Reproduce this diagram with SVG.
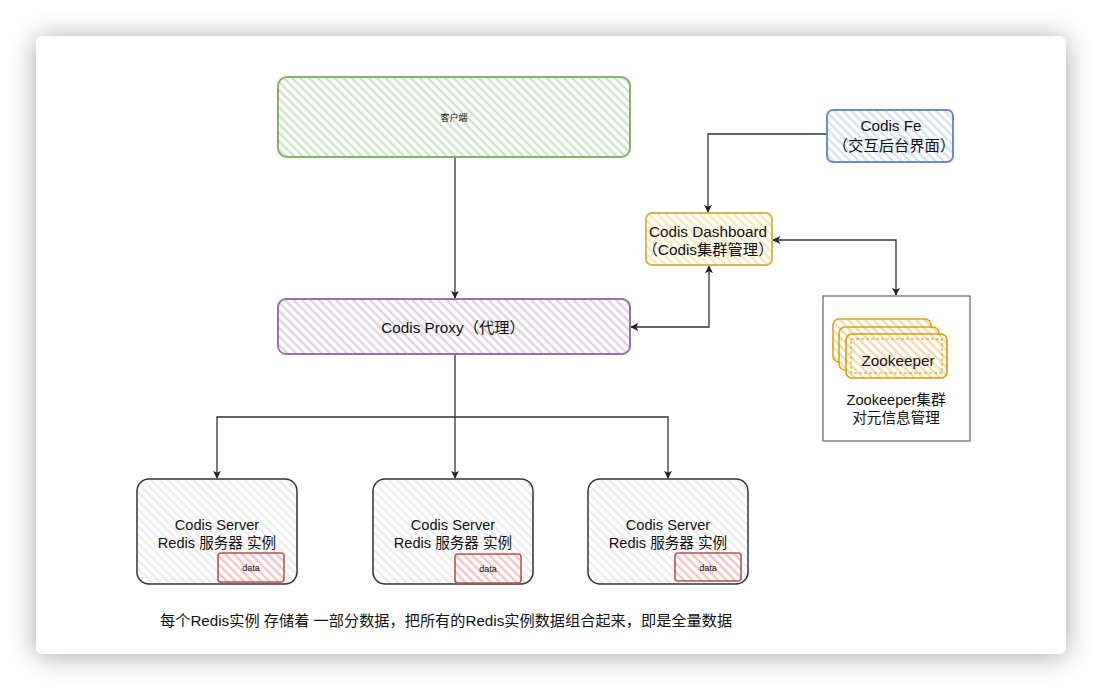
<svg xmlns="http://www.w3.org/2000/svg" width="1102" height="690" viewBox="0 0 1102 690">
<defs>
<filter id="shadow" x="-10%" y="-10%" width="120%" height="120%">
<feGaussianBlur in="SourceAlpha" stdDeviation="14"/>
<feComponentTransfer><feFuncA type="linear" slope="0.35"/></feComponentTransfer>
<feOffset dx="0" dy="2"/>
<feMerge><feMergeNode/><feMergeNode in="SourceGraphic"/></feMerge>
</filter>
<pattern id="hGreen" width="6" height="6" patternUnits="userSpaceOnUse" patternTransform="rotate(-45)"><rect width="6" height="6" fill="#ffffff"/><line x1="1.5" y1="0" x2="1.5" y2="6" stroke="#c4dfc0" stroke-width="2"/></pattern>
<pattern id="hPurple" width="6" height="6" patternUnits="userSpaceOnUse" patternTransform="rotate(-45)"><rect width="6" height="6" fill="#ffffff"/><line x1="1.5" y1="0" x2="1.5" y2="6" stroke="#d8cbe0" stroke-width="2"/></pattern>
<pattern id="hBlue" width="6" height="6" patternUnits="userSpaceOnUse" patternTransform="rotate(-45)"><rect width="6" height="6" fill="#ffffff"/><line x1="1.5" y1="0" x2="1.5" y2="6" stroke="#cfdcef" stroke-width="2"/></pattern>
<pattern id="hYellow" width="6" height="6" patternUnits="userSpaceOnUse" patternTransform="rotate(-45)"><rect width="6" height="6" fill="#ffffff"/><line x1="1.5" y1="0" x2="1.5" y2="6" stroke="#f7e6a8" stroke-width="2"/></pattern>
<pattern id="hOrange" width="6" height="6" patternUnits="userSpaceOnUse" patternTransform="rotate(-45)"><rect width="6" height="6" fill="#ffffff"/><line x1="1.5" y1="0" x2="1.5" y2="6" stroke="#f5d29e" stroke-width="2"/></pattern>
<pattern id="hGray" width="6" height="6" patternUnits="userSpaceOnUse" patternTransform="rotate(-45)"><rect width="6" height="6" fill="#ffffff"/><line x1="1.5" y1="0" x2="1.5" y2="6" stroke="#e6e6e6" stroke-width="1.6"/></pattern>
<pattern id="hRed" width="6" height="6" patternUnits="userSpaceOnUse" patternTransform="rotate(-45)"><rect width="6" height="6" fill="#ffffff"/><line x1="1.5" y1="0" x2="1.5" y2="6" stroke="#f4b9b7" stroke-width="2"/></pattern>
<marker id="arr" viewBox="0 0 10 10" refX="9" refY="5" markerWidth="8" markerHeight="8" orient="auto-start-reverse" markerUnits="userSpaceOnUse"><path d="M0,0 L10,5 L0,10 L2.5,5 Z" fill="#222"/></marker>
</defs>
<style>
.t{font-family:"Liberation Sans","Noto Sans CJK SC",sans-serif;fill:#111;text-anchor:middle}
.t14{font-size:14.6px}
.t15{font-size:15.3px}
.t9{font-size:9px}
.conn{fill:none;stroke:#333;stroke-width:1.3}
</style>
<rect width="1102" height="690" fill="#ffffff"/>
<rect x="36" y="36" width="1030" height="618" rx="7" fill="#ffffff" filter="url(#shadow)"/>

<g id="connectors">
<path class="conn" d="M455,157 V298" marker-end="url(#arr)"/>
<path class="conn" d="M827,134 H708 V212" marker-end="url(#arr)"/>
<path class="conn" d="M773,240 H896 V295" marker-start="url(#arr)" marker-end="url(#arr)"/>
<path class="conn" d="M631,327 H709 V266" marker-start="url(#arr)" marker-end="url(#arr)"/>
<path class="conn" d="M455,354 V478" marker-end="url(#arr)"/>
<path class="conn" d="M217,478 V417 H668 V478" marker-start="url(#arr)" marker-end="url(#arr)"/>
</g>

<g id="client">
<rect x="278" y="77" width="352" height="80" rx="9" fill="url(#hGreen)" stroke="#82b366" stroke-width="2"/>
<text class="t t9" x="454" y="121">客户端</text>
</g>

<g id="proxy">
<rect x="278" y="299" width="352" height="55" rx="8" fill="url(#hPurple)" stroke="#9673a6" stroke-width="2"/>
<text class="t t15" x="453" y="333">Codis Proxy（代理）</text>
</g>

<g id="fe">
<rect x="827" y="110" width="126" height="52" rx="6" fill="url(#hBlue)" stroke="#6c8ebf" stroke-width="2"/>
<text class="t t15" x="891" y="131">Codis Fe</text>
<text class="t t15" x="894" y="151">（交互后台界面）</text>
</g>

<g id="dashboard">
<rect x="646" y="213" width="126" height="52" rx="6" fill="url(#hYellow)" stroke="#d6b656" stroke-width="2"/>
<text class="t t15" x="708" y="237">Codis Dashboard</text>
<text class="t t15" x="708" y="255">（Codis集群管理）</text>
</g>

<g id="zookeeper">
<rect x="823" y="296" width="147" height="145" fill="#ffffff" stroke="#666" stroke-width="1.2"/>
<rect x="833" y="319" width="98" height="43" rx="6" fill="url(#hOrange)" stroke="#d79b00" stroke-width="1.6" opacity="0.9"/>
<rect x="839" y="327" width="100" height="43" rx="6" fill="url(#hOrange)" stroke="#d79b00" stroke-width="1.6" opacity="0.9"/>
<rect x="846" y="334" width="101" height="44" rx="6" fill="url(#hOrange)" stroke="#d79b00" stroke-width="1.6"/>
<rect x="851" y="339" width="91" height="34" fill="none" stroke="#d79b00" stroke-width="1" stroke-dasharray="3 2"/>
<text class="t t15" x="898" y="366">Zookeeper</text>
<text class="t t14" x="896" y="405">Zookeeper集群</text>
<text class="t t14" x="896" y="423">对元信息管理</text>
</g>

<g id="server1">
<rect x="137" y="479" width="160" height="105" rx="12" fill="url(#hGray)" stroke="#333" stroke-width="1.5"/>
<text class="t t14" x="217" y="530">Codis Server</text>
<text class="t t14" x="217" y="548">Redis 服务器 实例</text>
<rect x="218" y="553" width="66" height="29" rx="3" fill="url(#hRed)" stroke="#b85450" stroke-width="1.6"/>
<text class="t t9" x="251" y="571">data</text>
</g>

<g id="server2">
<rect x="373" y="479" width="160" height="105" rx="12" fill="url(#hGray)" stroke="#333" stroke-width="1.5"/>
<text class="t t14" x="453" y="530">Codis Server</text>
<text class="t t14" x="453" y="548">Redis 服务器 实例</text>
<rect x="455" y="554" width="66" height="29" rx="3" fill="url(#hRed)" stroke="#b85450" stroke-width="1.6"/>
<text class="t t9" x="488" y="572">data</text>
</g>

<g id="server3">
<rect x="588" y="479" width="160" height="105" rx="12" fill="url(#hGray)" stroke="#333" stroke-width="1.5"/>
<text class="t t14" x="668" y="530">Codis Server</text>
<text class="t t14" x="668" y="548">Redis 服务器 实例</text>
<rect x="675" y="553" width="66" height="28" rx="3" fill="url(#hRed)" stroke="#b85450" stroke-width="1.6"/>
<text class="t t9" x="708" y="571">data</text>
</g>

<g id="caption">
<text class="t" x="160" y="626" style="text-anchor:start;font-size:15.2px">每个Redis实例 存储着 一部分数据，把所有的Redis实例数据组合起来，即是全量数据</text>
</g>
</svg>
